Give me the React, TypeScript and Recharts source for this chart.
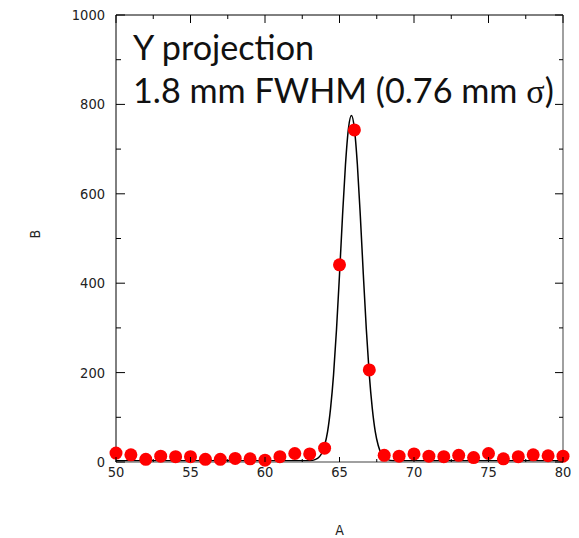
import { ComposedChart, Line, Scatter, XAxis, YAxis, Label } from 'recharts';

// measured points (A vs B)
const pointX = [
  50, 51, 52, 53, 54, 55, 56, 57, 58, 59, 60, 61, 62, 63, 64, 65,
  66, 67, 68, 69, 70, 71, 72, 73, 74, 75, 76, 77, 78, 79, 80,
];
const pointY = [
  20, 16, 6, 13, 12, 12, 6, 6, 8, 7, 4, 12, 19, 18, 31, 441,
  743, 206, 15, 13, 18, 13, 12, 15, 10, 19, 7, 12, 16, 14, 13,
];

// fitted curve
const curveX = [
  50, 55, 60, 62, 63, 63.4, 63.6, 63.8, 64, 64.2, 64.4, 64.6, 64.8, 65, 65.2,
  65.4, 65.6, 65.8, 66, 66.2, 66.4, 66.6, 66.8, 67, 67.2, 67.4, 67.6, 67.8, 68,
  68.2, 68.6, 70, 75, 80,
];
const curveY = [
  3, 3, 3, 3, 3, 6, 10, 19, 37, 68, 120, 195, 297, 419, 549,
  665, 746, 775, 746, 665, 549, 419, 297, 195, 120, 68, 37, 19, 10,
  6, 3, 3, 3, 3,
];

const xTicks = [50, 52.5, 55, 57.5, 60, 62.5, 65, 67.5, 70, 72.5, 75, 77.5, 80];
const yTicks = [0, 100, 200, 300, 400, 500, 600, 700, 800, 900, 1000];

const points = pointX.map((x, i) => ({ x, y: pointY[i] }));
const curve = curveX.map((x, i) => ({ x, y: curveY[i] }));

const tickFont = "'Liberation Sans Narrow', 'DejaVu Sans Condensed', sans-serif";

function BottomTick({ x, y, payload }: any) {
  const major = payload.value % 5 === 0;
  return (
    <g>
      <line x1={x} y1={y} x2={x} y2={y - (major ? 5 : 3)} stroke="#000" />
      {major && (
        <text x={x} y={y + 15} textAnchor="middle" fontSize={14.5} fontFamily={tickFont} fill="#222">
          {payload.value}
        </text>
      )}
    </g>
  );
}

function TopTick({ x, y, payload }: any) {
  const major = payload.value % 5 === 0;
  return <line x1={x} y1={y} x2={x} y2={y + (major ? 8 : 4)} stroke="#000" />;
}

function LeftTick({ x, y, payload }: any) {
  const major = payload.value % 200 === 0;
  return (
    <g>
      <line x1={x} y1={y} x2={x + (major ? 9 : 5)} y2={y} stroke="#000" />
      {major && (
        <text x={x - 11} y={y + 5} textAnchor="end" fontSize={14.5} fontFamily={tickFont} fill="#222">
          {payload.value}
        </text>
      )}
    </g>
  );
}

function RightTick({ x, y, payload }: any) {
  const major = payload.value % 200 === 0;
  return <line x1={x} y1={y} x2={x - (major ? 8 : 4)} y2={y} stroke="#000" />;
}

export default function App() {
  return (
    <div style={{ position: 'relative', width: 571, height: 530 }}>
      <ComposedChart width={571} height={530} margin={{ top: 6, right: 15, bottom: 0, left: 0 }}>
        <XAxis
          dataKey="x"
          type="number"
          domain={[50, 80]}
          ticks={xTicks}
          height={76}
          tickSize={0}
          tickMargin={0}
          tickLine={false}
          axisLine={{ stroke: '#808080', strokeWidth: 1.5 }}
          tick={<BottomTick />}
          interval={0}
        >
          <Label value="A" position="insideBottom" offset={3} fontSize={14} fontFamily={tickFont} fill="#222" />
        </XAxis>
        <XAxis
          xAxisId="top"
          orientation="top"
          dataKey="x"
          type="number"
          domain={[50, 80]}
          ticks={xTicks}
          height={1}
          tickSize={0}
          tickMargin={0}
          tickLine={false}
          axisLine={{ stroke: '#000' }}
          tick={<TopTick />}
          interval={0}
        />
        <YAxis
          dataKey="y"
          type="number"
          domain={[0, 1000]}
          ticks={yTicks}
          width={108}
          tickSize={0}
          tickMargin={0}
          tickLine={false}
          axisLine={{ stroke: '#000' }}
          tick={<LeftTick />}
          interval={0}
        >
          <Label value="B" position="insideLeft" angle={-90} offset={27} fontSize={14} fontFamily={tickFont} fill="#222" />
        </YAxis>
        <YAxis
          yAxisId="right"
          orientation="right"
          type="number"
          domain={[0, 1000]}
          ticks={yTicks}
          width={1}
          tickSize={0}
          tickMargin={0}
          tickLine={false}
          axisLine={{ stroke: '#808080', strokeWidth: 1.5 }}
          tick={<RightTick />}
          interval={0}
        />
        <Line
          xAxisId="top"
          yAxisId="right"
          data={curve}
          dataKey="y"
          type="monotone"
          stroke="#000"
          strokeWidth={1.5}
          dot={false}
          isAnimationActive={false}
        />
        <Scatter
          data={points}
          dataKey="y"
          fill="#ff0000"
          isAnimationActive={false}
          shape={(p: any) => <circle cx={p.cx} cy={p.cy} r={6.5} fill="#ff0000" />}
        />
      </ComposedChart>
      <svg
        width={571}
        height={130}
        style={{ position: 'absolute', left: 0, top: 0, pointerEvents: 'none' }}
      >
        <text x={125} y={52} fontFamily="Lato, sans-serif" fontSize={34.2} fill="#111">
          Y projection
        </text>
        <text x={125} y={95} fontFamily="Lato, sans-serif" fontSize={34.2} fill="#111">
          1.8 mm FWHM (0.76 mm{' '}
          <tspan fontFamily="'Liberation Serif', 'DejaVu Serif', serif">σ</tspan>)
        </text>
      </svg>
    </div>
  );
}
